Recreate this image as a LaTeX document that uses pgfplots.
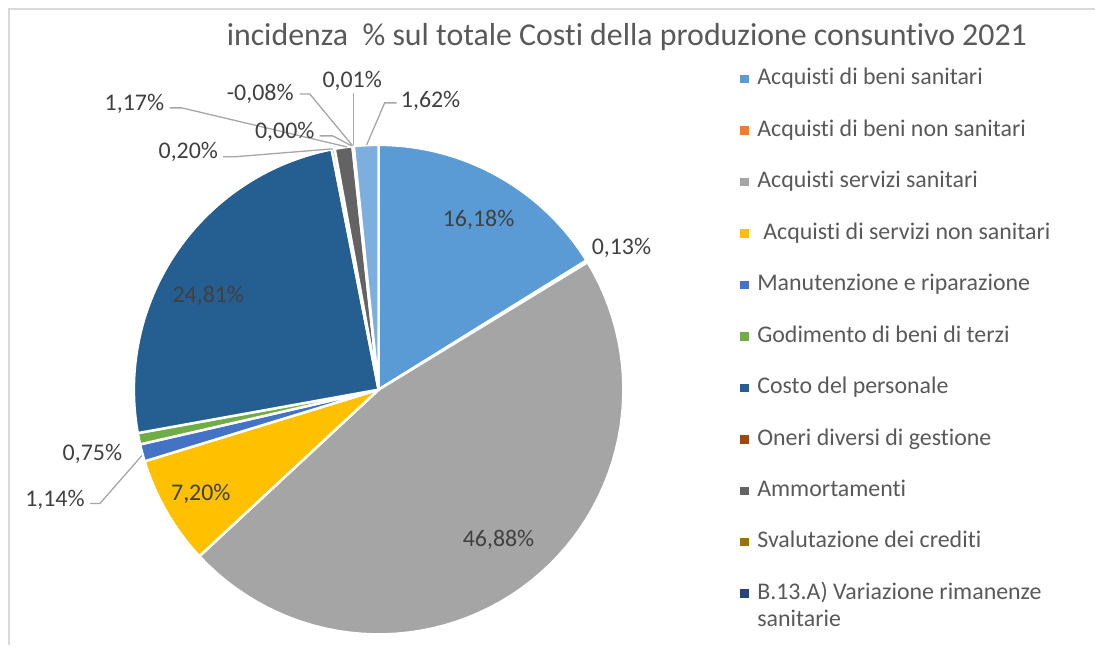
\documentclass[border=0pt]{standalone}
\usepackage{pgfplots}
\pgfplotsset{compat=1.18}
\usepackage{pgfplotstable}
\usepackage{fontspec}
\setmainfont[Ligatures={NoCommon,NoContextual},RawFeature={-liga;-clig;-calt;-dlig}]{Carlito}
\definecolor{sl0}{HTML}{5B9BD5}
\definecolor{sl1}{HTML}{ED7D31}
\definecolor{sl2}{HTML}{A5A5A5}
\definecolor{sl3}{HTML}{FFC000}
\definecolor{sl4}{HTML}{4472C4}
\definecolor{sl5}{HTML}{70AD47}
\definecolor{sl6}{HTML}{255E91}
\definecolor{sl7}{HTML}{9E480E}
\definecolor{sl8}{HTML}{636363}
\definecolor{sl9}{HTML}{997300}
\definecolor{sl10}{HTML}{264478}
\definecolor{sl11}{HTML}{43682B}
\definecolor{sl12}{HTML}{7CAFDD}
\definecolor{txt}{HTML}{595959}
\definecolor{lab}{HTML}{404040}
\definecolor{lead}{HTML}{A6A6A6}
\definecolor{frame}{HTML}{D9D9D9}

% incidenza % (value of each slice, clockwise from 12 o'clock)
\pgfplotstableread[col sep=comma]{
value
16.18
0.13
46.88
7.20
1.14
0.75
24.81
0.20
1.17
0.00
-0.08
0.01
1.62
}\piedata

\newcommand{\lbl}[3]{\node[font=\fontsize{24}{29}\selectfont, text=lab, anchor=base] at (axis cs:#1,#2) {#3};}

\begin{document}
\begin{tikzpicture}
\begin{axis}[
  width=1096bp, height=646bp, scale only axis,
  xmin=0, xmax=1096, ymin=0, ymax=646,
  hide axis, clip=false,
  legend image code/.code={\fill[#1, draw=none] (0bp,1.5bp) rectangle (8.5bp,10bp);},
  legend cell align=left,
  legend style={at={(axis cs:741,578)}, anchor=north west, draw=none, fill=none,
    inner sep=0pt, outer sep=0pt, row sep=28.5bp, column sep=8.5bp,
    font=\fontsize{24}{29}\selectfont, text=txt,
    nodes={inner sep=0pt, outer sep=0pt, text height=17bp, text depth=6bp, anchor=base west}},
]
\path (rel axis cs:0,0) rectangle (rel axis cs:1,1);
% frame
\draw[frame, line width=2bp] (axis cs:9,0) -- (axis cs:9,637) -- (axis cs:1096,637);

% pie slices
\pgfmathsetmacro\k{360/100.17}
\def\cum{0}
\pgfplotsforeachungrouped \i in {0,...,12}{%
  \pgfplotstablegetelem{\i}{value}\of\piedata
  \pgfmathsetmacro\v{abs(\pgfplotsretval)}%
  \pgfmathsetmacro\a{90-\cum*\k}%
  \pgfmathsetmacro\cum{\cum+\v}%
  \pgfmathsetmacro\b{90-\cum*\k}%
  \ifdim\v pt>0pt
    \edef\temp{\noexpand\addplot[fill=sl\i, draw=white, line width=2.5bp, line join=round, domain=\b:\a, samples=60, forget plot] ({379+245*cos(x)},{256+245*sin(x)}) -- (axis cs:379,256) -- cycle;}%
    \temp
  \fi
}

% leader lines
\addplot[lead, line width=1.3bp, forget plot] coordinates {(170,538) (182,538) (347,499)};
\addplot[lead, line width=1.3bp, forget plot] coordinates {(320,510) (333,510) (352,500)};
\addplot[lead, line width=1.3bp, forget plot] coordinates {(300,552) (310,552) (353,500)};
\addplot[lead, line width=1.3bp, forget plot] coordinates {(354,553) (354,501)};
\addplot[lead, line width=1.3bp, forget plot] coordinates {(397,543) (385,543) (367,501)};
\addplot[lead, line width=1.3bp, forget plot] coordinates {(223,489) (234,489) (333,497)};
\addplot[lead, line width=1.3bp, forget plot] coordinates {(90,142) (100,142) (142,190)};

% labels
\lbl{479}{419.5}{16,18\%}
\lbl{499}{98.5}{46,88\%}
\lbl{201}{145.5}{7,20\%}
\lbl{208.5}{343.5}{24,81\%}
\lbl{622}{391.5}{0,13\%}
\lbl{92.5}{185.5}{0,75\%}
\lbl{55}{139.5}{1,14\%}
\lbl{134.5}{535.5}{1,17\%}
\lbl{260.5}{545.5}{-0,08\%}
\lbl{285}{507.5}{0,00\%}
\lbl{188.5}{487.5}{0,20\%}
\lbl{352.5}{558.5}{0,01\%}
\lbl{431}{538.5}{1,62\%}

% title
\node[font=\fontsize{32}{38}\selectfont, text=txt, anchor=base] at (axis cs:627.5,600) {incidenza\ \ \% sul totale Costi della produzione consuntivo 2021};

% legend
\addlegendimage{fill=sl0}\addlegendentry{Acquisti di beni sanitari}
\addlegendimage{fill=sl1}\addlegendentry{Acquisti di beni non sanitari}
\addlegendimage{fill=sl2}\addlegendentry{Acquisti servizi sanitari}
\addlegendimage{fill=sl3}\addlegendentry{\hspace{6bp}Acquisti di servizi non sanitari}
\addlegendimage{fill=sl4}\addlegendentry{Manutenzione e riparazione}
\addlegendimage{fill=sl5}\addlegendentry{Godimento di beni di terzi}
\addlegendimage{fill=sl6}\addlegendentry{Costo del personale}
\addlegendimage{fill=sl7}\addlegendentry{Oneri diversi di gestione}
\addlegendimage{fill=sl8}\addlegendentry{Ammortamenti}
\addlegendimage{fill=sl9}\addlegendentry{Svalutazione dei crediti}
\addlegendimage{fill=sl10}\addlegendentry{\begin{tabular}[t]{@{}l@{}}B.13.A) Variazione rimanenze\\[-2bp]sanitarie\end{tabular}}
\end{axis}
\end{tikzpicture}
\end{document}
